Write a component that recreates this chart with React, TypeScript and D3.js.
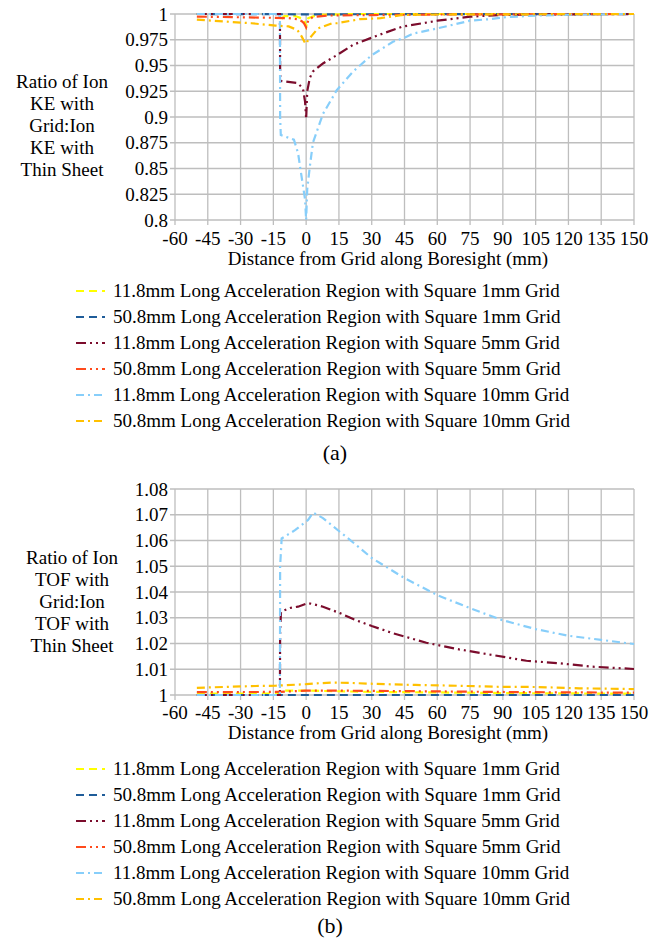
import React from "react";
import * as d3 from "d3";

type Pt = [number, number];

// ---------- Data ----------
const xTicks = [-60, -45, -30, -15, 0, 15, 30, 45, 60, 75, 90, 105, 120, 135, 150];
const keTicks = [0.8, 0.825, 0.85, 0.875, 0.9, 0.925, 0.95, 0.975, 1];
const keTickLabels = ["0.8", "0.825", "0.85", "0.875", "0.9", "0.925", "0.95", "0.975", "1"];
const tofTicks = [1, 1.01, 1.02, 1.03, 1.04, 1.05, 1.06, 1.07, 1.08];
const tofTickLabels = ["1", "1.01", "1.02", "1.03", "1.04", "1.05", "1.06", "1.07", "1.08"];

const seriesNames = [
  "11.8mm Long Acceleration Region with Square 1mm Grid",
  "50.8mm Long Acceleration Region with Square 1mm Grid",
  "11.8mm Long Acceleration Region with Square 5mm Grid",
  "50.8mm Long Acceleration Region with Square 5mm Grid",
  "11.8mm Long Acceleration Region with Square 10mm Grid",
  "50.8mm Long Acceleration Region with Square 10mm Grid",
];

// (a) kinetic energy ratio
const ke11_1: Pt[] = [[-50, 1], [-12, 1], [-11.8, 0.994], [-10, 0.998], [-5, 0.998], [-1, 0.995], [0, 0.988], [1, 0.996], [5, 0.999], [20, 1], [150, 1]];
const ke50_1: Pt[] = [[-50, 1], [0, 0.9997], [150, 1]];
const ke11_5: Pt[] = [[-50, 1], [-12, 1], [-11.9, 0.945], [-11.8, 0.935], [-4, 0.933], [-1.5, 0.928], [-0.5, 0.915], [0, 0.898], [0.5, 0.925], [1.7, 0.938], [3, 0.944], [7.7, 0.952], [14, 0.96], [21.4, 0.97], [25, 0.973], [35, 0.981], [44, 0.9877], [60, 0.9935], [75, 0.9974], [89, 0.999], [105, 0.9995], [150, 1]];
const ke50_5: Pt[] = [[-50, 0.9975], [-30, 0.9968], [-15, 0.9963], [-8, 0.996], [-4, 0.995], [-2, 0.993], [-1, 0.991], [0, 0.987], [1, 0.994], [3, 0.997], [10, 0.9985], [30, 0.999], [60, 0.9995], [150, 1]];
const ke11_10: Pt[] = [[-50, 1], [-12, 1], [-11.9, 0.9], [-11.6, 0.8825], [-5.6, 0.878], [-3.7, 0.865], [-2.3, 0.845], [-0.5, 0.82], [0, 0.8], [0.5, 0.83], [1.7, 0.852], [3.1, 0.875], [7.7, 0.903], [14, 0.926], [21.4, 0.944], [24.6, 0.95], [30, 0.96], [39.7, 0.973], [45, 0.977], [49, 0.981], [60, 0.986], [75, 0.9935], [84, 0.995], [90, 0.9967], [105, 0.9985], [120, 0.9993], [150, 1]];
const ke50_10: Pt[] = [[-50, 0.9945], [-25, 0.991], [-14, 0.9887], [-8, 0.988], [-4, 0.9845], [-2, 0.978], [-0.5, 0.972], [0, 0.971], [1, 0.975], [3, 0.98], [5.4, 0.986], [11.8, 0.991], [14, 0.991], [24.6, 0.995], [34, 0.996], [44, 0.999], [60, 0.9995], [150, 1]];

// (b) time-of-flight ratio
const tof11_1: Pt[] = [[-50, 1.0005], [-12, 1.0005], [-11.8, 1.0017], [0, 1.0017], [30, 1.0012], [60, 1.001], [100, 1.0007], [150, 1.0005]];
const tof50_1: Pt[] = [[-50, 1], [150, 1]];
const tof11_5: Pt[] = [[-50, 1], [-12, 1], [-11.9, 1.025], [-11.5, 1.0323], [-7.4, 1.0338], [-3.7, 1.0343], [0.9, 1.0357], [3.1, 1.0353], [7.7, 1.0343], [15.4, 1.0318], [23, 1.029], [30, 1.0268], [39.7, 1.024], [55, 1.0203], [70, 1.0177], [85.5, 1.0155], [100.8, 1.0133], [116, 1.0123], [131, 1.011], [150, 1.0101]];
const tof50_5: Pt[] = [[-50, 1.0011], [-12, 1.0012], [0, 1.0017], [15, 1.0017], [60, 1.0014], [100, 1.0011], [150, 1.0009]];
const tof11_10: Pt[] = [[-50, 1], [-12, 1], [-11.9, 1.05], [-11.2, 1.0608], [-5.1, 1.064], [0.9, 1.068], [3.2, 1.0708], [7.7, 1.0687], [15.4, 1.0634], [23, 1.0582], [30, 1.0532], [45, 1.0454], [60, 1.0388], [75, 1.0337], [90, 1.029], [105, 1.0256], [120, 1.023], [135, 1.0214], [150, 1.0198]];
const tof50_10: Pt[] = [[-50, 1.0028], [-23, 1.0035], [-14, 1.0036], [0, 1.0042], [4, 1.0045], [12, 1.0048], [20, 1.0047], [32, 1.0043], [50, 1.0039], [69, 1.0036], [87, 1.0032], [105, 1.0031], [125, 1.0026], [150, 1.0023]];

const keSeries = [ke11_1, ke50_1, ke11_5, ke50_5, ke11_10, ke50_10];
const tofSeries = [tof11_1, tof50_1, tof11_5, tof50_5, tof11_10, tof50_10];

// ---------- Styles ----------
const colors = ["#FFFF00", "#1F5C99", "#7B0C2C", "#FF4A1C", "#87CEFA", "#FFC000"];
const dashes = ["8,5", "8,5", "10,4,2,4,2,4", "10,4,2,4,2,4", "8,4,2,4", "8,4,2,4"];
const FONT = '"Liberation Serif"';
const GRID = "#BEBEBE";
const textStyle: React.CSSProperties = { fontFamily: FONT, fontSize: "19px" };

const X0 = 175, X1 = 634;

type ChartProps = {
  top: number;
  bottom: number;
  yDomain: [number, number];
  ticks: number[];
  tickLabels: string[];
  series: Pt[][];
  yLabel: string[];
  yLabelX: number;
  yLabelY: number;
  xTickY: number;
  xTitleY: number;
  legendY: number;
  caption: string;
  captionX: number;
  captionY: number;
};

function Chart(p: ChartProps) {
  const x = d3.scaleLinear().domain([-60, 150]).range([X0, X1]);
  const y = d3.scaleLinear().domain(p.yDomain).range([p.bottom, p.top]);
  const line = d3.line<Pt>().x((d) => x(d[0])).y((d) => y(d[1]));
  return (
    <g>
      {p.ticks.map((t, i) => (
        <line key={"hy" + i} x1={X0 - 5} x2={X1} y1={y(t)} y2={y(t)} stroke={GRID} strokeWidth={1.3} />
      ))}
      {xTicks.map((t, i) => (
        <line key={"vx" + i} x1={x(t)} x2={x(t)} y1={p.top} y2={p.bottom + 5} stroke={GRID} strokeWidth={1.3} />
      ))}
      {p.ticks.map((t, i) => (
        <text key={"ty" + i} style={textStyle} x={X0 - 7} y={y(t) + 6.5} textAnchor="end">{p.tickLabels[i]}</text>
      ))}
      {xTicks.map((t, i) => (
        <text key={"tx" + i} style={textStyle} x={x(t)} y={p.xTickY} textAnchor="middle">{t}</text>
      ))}
      <text style={textStyle} x={388} y={p.xTitleY} textAnchor="middle">Distance from Grid along Boresight (mm)</text>
      {p.yLabel.map((s, i) => (
        <text key={"yl" + i} style={textStyle} x={p.yLabelX} y={p.yLabelY + i * 22} textAnchor="middle">{s}</text>
      ))}
      {p.series.map((s, i) => (
        <path key={"s" + i} d={line(s) || ""} fill="none" stroke={colors[i]} strokeWidth={2.2} strokeDasharray={dashes[i]} />
      ))}
      {seriesNames.map((n, i) => {
        const cy = p.legendY + i * 26;
        return (
          <g key={"lg" + i}>
            <line x1={76} x2={105} y1={cy} y2={cy} stroke={colors[i]} strokeWidth={2.2} strokeDasharray={dashes[i]} />
            <text style={textStyle} x={113} y={cy + 6}>{n}</text>
          </g>
        );
      })}
      <text style={{ fontFamily: FONT, fontSize: "22px" }} x={p.captionX} y={p.captionY} textAnchor="middle">{p.caption}</text>
    </g>
  );
}

export default function App() {
  return (
    <svg width={663} height={951} style={{ position: "absolute", left: 0, top: 0, background: "#fff" }}>
      <rect x={0} y={0} width={663} height={951} fill="#fff" />
      <Chart
        top={14}
        bottom={220}
        yDomain={[0.8, 1]}
        ticks={keTicks}
        tickLabels={keTickLabels}
        series={keSeries}
        yLabel={["Ratio of Ion", "KE with", "Grid:Ion", "KE with", "Thin Sheet"]}
        yLabelX={62}
        yLabelY={88}
        xTickY={245}
        xTitleY={265}
        legendY={291}
        caption="(a)"
        captionX={335}
        captionY={460}
      />
      <Chart
        top={489}
        bottom={695}
        yDomain={[1, 1.08]}
        ticks={tofTicks}
        tickLabels={tofTickLabels}
        series={tofSeries}
        yLabel={["Ratio of Ion", "TOF with", "Grid:Ion", "TOF with", "Thin Sheet"]}
        yLabelX={72}
        yLabelY={564}
        xTickY={719}
        xTitleY={739}
        legendY={769}
        caption="(b)"
        captionX={330}
        captionY={933}
      />
    </svg>
  );
}
